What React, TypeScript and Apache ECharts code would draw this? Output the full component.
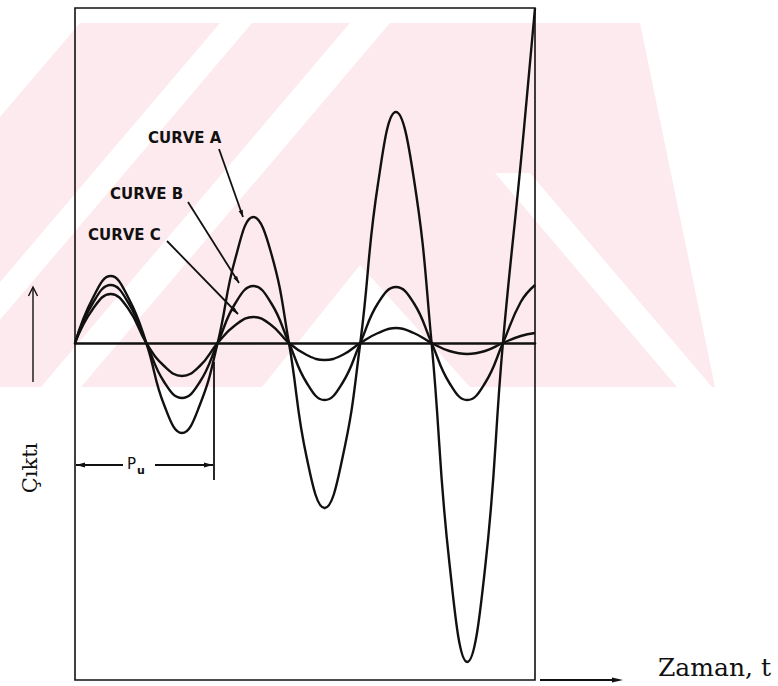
import { useEffect, useRef } from "react";
import * as echarts from "echarts";

// Time in half-periods of the ultimate oscillation (zero crossings fall on integers)
const timeSteps = [
  0, 0.25, 0.5, 0.75, 1, 1.25, 1.5, 1.75, 2, 2.25, 2.5, 2.75, 3, 3.25, 3.5,
  3.75, 4, 4.25, 4.5, 4.75, 5, 5.25, 5.5, 5.75, 6, 6.25, 6.45,
];

// Curve A: growing oscillation (unstable)
const curveA = [
  0, 45, 67, 45, 0, -62, -90, -62, 0, 85, 126, 90, 0, -115, -165, -115, 0,
  160, 231, 165, 0, -220, -319, -225, 0, 180, 335,
];

// Curve B: sustained oscillation (ultimate gain)
const curveB = [
  0, 40, 58, 40, 0, -39, -55, -39, 0, 40, 57, 40, 0, -40, -57, -40, 0, 40, 56,
  40, 0, -40, -57, -40, 0, 41, 58,
];

// Curve C: decaying oscillation (stable)
const curveC = [
  0, 34, 49, 34, 0, -23, -33, -23, 0, 18, 26, 18, 0, -12, -17, -12, 0, 10, 15,
  10, 0, -8, -11, -8, 0, 7, 10,
];

const curveLabels = ["CURVE A", "CURVE B", "CURVE C"];
const xTitle = "Zaman, t";
const yTitle = "Çıktı";
const periodSymbol = "P";
const periodSub = "u";

const INK = "#111";
const PINK = "#fdeaee";

function arrowHead(
  tipX: number,
  tipY: number,
  fromX: number,
  fromY: number,
  len: number,
  half: number
) {
  const a = Math.atan2(tipY - fromY, tipX - fromX);
  const bx = tipX - len * Math.cos(a);
  const by = tipY - len * Math.sin(a);
  const nx = -Math.sin(a) * half;
  const ny = Math.cos(a) * half;
  return [
    [tipX, tipY],
    [bx + nx, by + ny],
    [bx - nx, by - ny],
  ];
}

function leader(x1: number, y1: number, x2: number, y2: number) {
  return [
    {
      type: "line",
      shape: { x1, y1, x2, y2 },
      style: { stroke: INK, lineWidth: 1.8 },
      z: 20,
    },
    {
      type: "polygon",
      shape: { points: arrowHead(x2, y2, x1, y1, 7, 2.2) },
      style: { fill: INK },
      z: 20,
    },
  ];
}

const white = (points: number[][]) => ({
  type: "polygon",
  shape: { points },
  style: { fill: "#fff" },
  z: -9,
});

// Faint background stripes
const watermark = [
  {
    type: "rect",
    shape: { x: 0, y: 23, width: 715, height: 364 },
    style: { fill: PINK },
    z: -10,
  },
  white([[0, 23], [80, 23], [0, 117]]),
  white([[220, 23], [252, 23], [-57, 387], [-89, 387]]),
  white([[350, 23], [390, 23], [81, 387], [41, 387]]),
  white([[262, 387], [360, 265], [470, 387]]),
  white([[495, 173], [530, 173], [712, 387], [677, 387]]),
  white([[640, 23], [778, 23], [778, 387], [715, 387]]),
];

const labelStyle = {
  fontFamily: "DejaVu Sans",
  fontWeight: "bold",
  fontSize: 15,
  fill: INK,
  verticalAlign: "middle",
};

export default function App() {
  const ref = useRef<HTMLDivElement>(null);

  useEffect(() => {
    document.body.style.margin = "0";
    const chart = echarts.init(ref.current!, null, { renderer: "svg" });

    const mkSeries = (name: string, values: number[]) => ({
      name,
      type: "line",
      data: timeSteps.map((t, i) => [t, values[i]]),
      symbol: "none",
      smooth: 0.45,
      lineStyle: { color: INK, width: 2.4 },
      z: 5,
    });

    const graphic: any[] = [
      ...watermark,
      // curve labels
      { type: "text", x: 148, y: 138, style: { ...labelStyle, text: curveLabels[0] }, z: 20 },
      { type: "text", x: 110, y: 194, style: { ...labelStyle, text: curveLabels[1] }, z: 20 },
      { type: "text", x: 88, y: 235, style: { ...labelStyle, text: curveLabels[2] }, z: 20 },
      ...leader(219, 149, 243, 217),
      ...leader(188, 202, 239, 283),
      ...leader(167, 241, 238, 314),
      // ultimate period dimension
      {
        type: "line",
        shape: { x1: 214, y1: 362, x2: 214, y2: 480 },
        style: { stroke: INK, lineWidth: 1.8 },
        z: 20,
      },
      {
        type: "line",
        shape: { x1: 76, y1: 465, x2: 123, y2: 465 },
        style: { stroke: INK, lineWidth: 1.8 },
        z: 20,
      },
      {
        type: "line",
        shape: { x1: 155, y1: 465, x2: 213, y2: 465 },
        style: { stroke: INK, lineWidth: 1.8 },
        z: 20,
      },
      {
        type: "polygon",
        shape: { points: arrowHead(76, 465, 90, 465, 9, 2.6) },
        style: { fill: INK },
        z: 20,
      },
      {
        type: "polygon",
        shape: { points: arrowHead(213, 465, 199, 465, 9, 2.6) },
        style: { fill: INK },
        z: 20,
      },
      {
        type: "text",
        x: 127,
        y: 464,
        style: {
          text: periodSymbol,
          fontFamily: "DejaVu Sans",
          fontSize: 15,
          fill: INK,
          verticalAlign: "middle",
        },
        z: 20,
      },
      {
        type: "text",
        x: 137,
        y: 470,
        style: {
          text: periodSub,
          fontFamily: "DejaVu Sans",
          fontWeight: "bold",
          fontSize: 11,
          fill: INK,
          verticalAlign: "middle",
        },
        z: 20,
      },
      // output axis title with arrow
      {
        type: "text",
        x: 30,
        y: 468,
        rotation: Math.PI / 2,
        style: {
          text: yTitle,
          fontFamily: "DejaVu Serif",
          fontSize: 21,
          fill: INK,
          align: "center",
          verticalAlign: "middle",
        },
        z: 20,
      },
      {
        type: "line",
        shape: { x1: 33, y1: 382, x2: 33, y2: 288 },
        style: { stroke: INK, lineWidth: 1.4 },
        z: 20,
      },
      {
        type: "polyline",
        shape: { points: [[28.5, 296], [33, 287], [37.5, 296]] },
        style: { stroke: INK, lineWidth: 1.4, fill: "none" },
        z: 20,
      },
      // time axis arrow and title
      {
        type: "line",
        shape: { x1: 540, y1: 680, x2: 615, y2: 680 },
        style: { stroke: INK, lineWidth: 1.8 },
        z: 20,
      },
      {
        type: "polygon",
        shape: { points: arrowHead(623, 680, 610, 680, 11, 2.6) },
        style: { fill: INK },
        z: 20,
      },
      {
        type: "text",
        x: 658,
        y: 667,
        style: {
          text: xTitle,
          fontFamily: "DejaVu Serif",
          fontSize: 25,
          fill: INK,
          verticalAlign: "middle",
        },
        z: 20,
      },
    ];

    chart.setOption({
      animation: false,
      backgroundColor: "#fff",
      grid: {
        left: 75,
        right: 243,
        top: 8,
        bottom: 6,
        show: true,
        borderColor: INK,
        borderWidth: 1.6,
        backgroundColor: "transparent",
        z: 4,
      },
      xAxis: {
        type: "value",
        min: 0,
        max: 6.45,
        axisLine: { show: true, onZero: true, lineStyle: { color: INK, width: 2.6 } },
        axisTick: { show: false },
        axisLabel: { show: false },
        splitLine: { show: false },
      },
      yAxis: {
        type: "value",
        min: -337,
        max: 335,
        axisLine: { show: false },
        axisTick: { show: false },
        axisLabel: { show: false },
        splitLine: { show: false },
      },
      series: [
        mkSeries(curveLabels[0], curveA),
        mkSeries(curveLabels[1], curveB),
        mkSeries(curveLabels[2], curveC),
      ],
      graphic,
    });

    return () => chart.dispose();
  }, []);

  return <div ref={ref} style={{ width: 778, height: 686 }} />;
}
